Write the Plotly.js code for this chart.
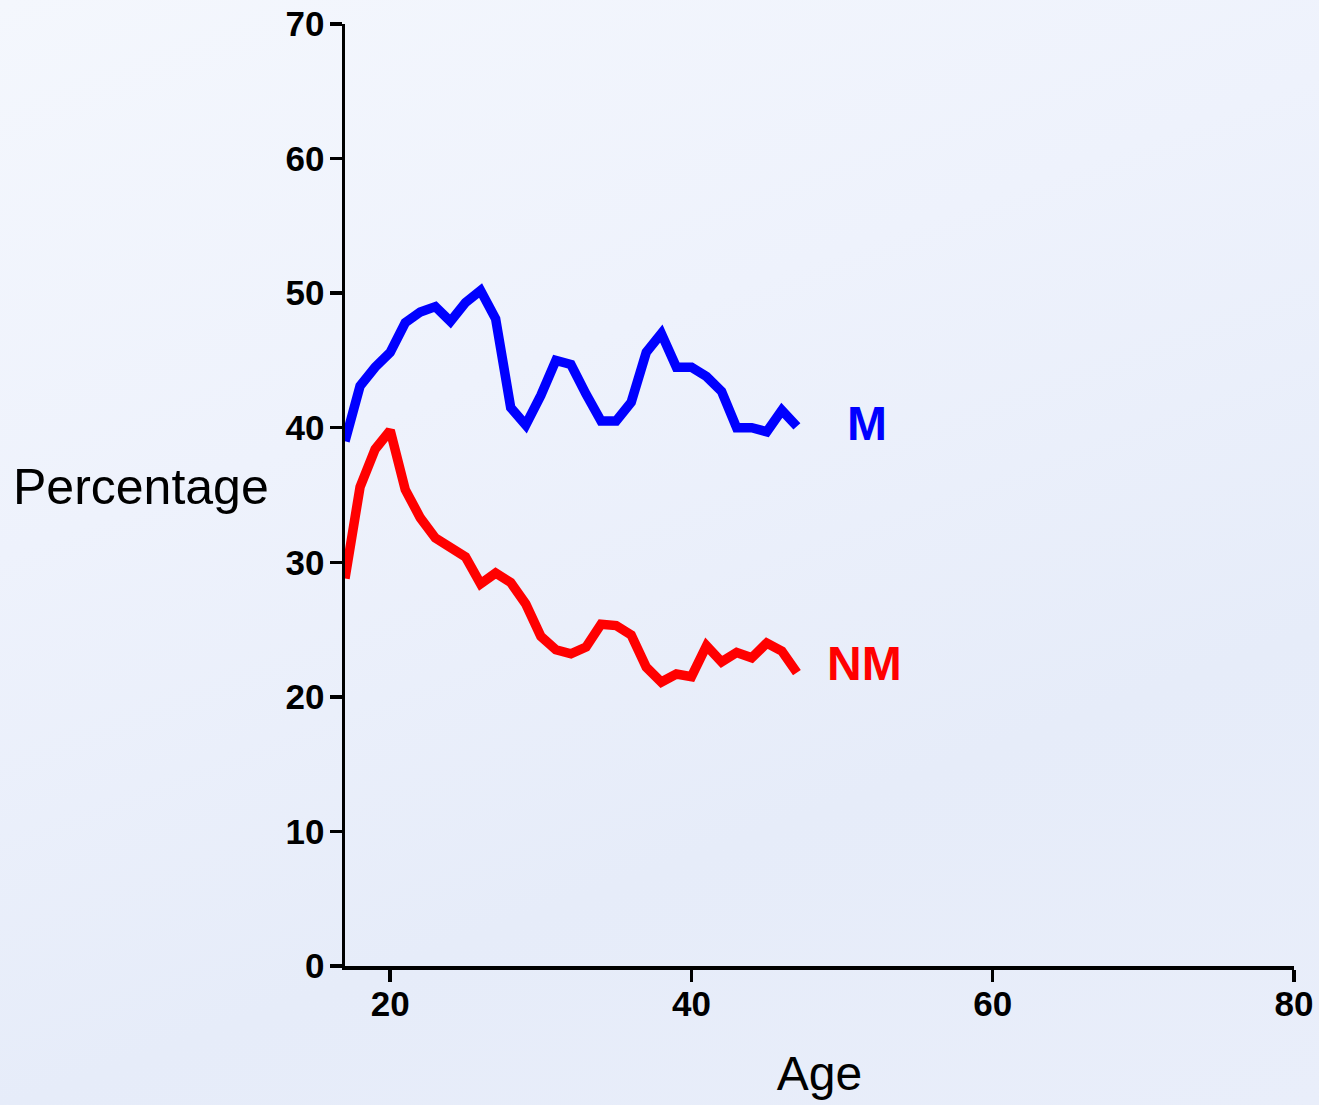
<!DOCTYPE html>
<html>
<head>
<meta charset="utf-8">
<script src="https://cdn.plot.ly/plotly-3.0.1.min.js"></script>
<style>
  html, body { margin: 0; padding: 0; }
  body { width: 1319px; height: 1105px; overflow: hidden;
    background: linear-gradient(160deg, #f4f7fd 0%, #eef2fc 35%, #e6ecf9 70%, #e9eefa 100%); }
  #chart { width: 1319px; height: 1105px; }
</style>
</head>
<body>
<div id="chart"></div>
<script>
const ages = [17,18,19,20,21,22,23,24,25,26,27,28,29,30,31,32,33,34,35,36,37,38,39,40,41,42,43,44,45,46,47];
const mValues = [39.0,43.1,44.5,45.6,47.8,48.6,49.0,47.9,49.3,50.2,48.1,41.5,40.2,42.4,45.0,44.7,42.5,40.5,40.5,41.9,45.6,47.0,44.5,44.5,43.8,42.7,40.0,40.0,39.7,41.3,40.1];
const nmValues = [28.8,35.6,38.4,39.8,35.4,33.3,31.8,31.1,30.4,28.4,29.2,28.5,26.9,24.5,23.5,23.2,23.7,25.4,25.3,24.6,22.2,21.1,21.7,21.5,23.8,22.6,23.3,22.9,24.0,23.4,21.8];
const seriesNames = ["M", "NM"];
const xTicks = [20, 40, 60, 80];
const yTicks = [0, 10, 20, 30, 40, 50, 60, 70];
const labelPos = {M: [51.65, 40.3], NM: [51.5, 22.5]};

const traces = [
  {x: ages, y: mValues, mode: "lines", name: seriesNames[0], line: {color: "#0000ff", width: 9.5}},
  {x: ages, y: nmValues, mode: "lines", name: seriesNames[1], line: {color: "#ff0000", width: 9.5}}
];

const tickFont = {family: "Liberation Sans, Arial, sans-serif", size: 35, color: "#000", weight: "bold"};

const layout = {
  width: 1319, height: 1105,
  margin: {l: 345, r: 25, t: 24, b: 139},
  paper_bgcolor: "rgba(0,0,0,0)",
  plot_bgcolor: "rgba(0,0,0,0)",
  showlegend: false,
  xaxis: {
    range: [17, 80], tickvals: xTicks, ticktext: xTicks.map(String),
    showline: true, linecolor: "#000", linewidth: 3.5,
    ticks: "outside", ticklen: 12, tickwidth: 3.5, tickcolor: "#000",
    showgrid: false, zeroline: false, tickfont: tickFont, ticklabelstandoff: -8,
    title: {text: "Age", font: {family: "Liberation Sans, Arial, sans-serif", size: 48, color: "#000"}, standoff: 36}
  },
  yaxis: {
    range: [0, 70], tickvals: yTicks, ticktext: yTicks.map(String),
    showline: true, linecolor: "#000", linewidth: 3.5,
    ticks: "outside", ticklen: 12, tickwidth: 3.5, tickcolor: "#000",
    showgrid: false, zeroline: false, tickfont: tickFont, ticklabelstandoff: -2
  },
  annotations: [
    {xref: "paper", yref: "y", x: -0.215, y: 35.6, text: "Percentage", showarrow: false,
     xanchor: "center", yanchor: "middle",
     font: {family: "Liberation Sans, Arial, sans-serif", size: 50, color: "#000"}},
    {x: labelPos.M[0], y: labelPos.M[1], text: seriesNames[0], showarrow: false,
     xanchor: "center", yanchor: "middle",
     font: {family: "Liberation Sans, Arial, sans-serif", size: 48, color: "#0000ff", weight: "bold"}},
    {x: labelPos.NM[0], y: labelPos.NM[1], text: seriesNames[1], showarrow: false,
     xanchor: "center", yanchor: "middle",
     font: {family: "Liberation Sans, Arial, sans-serif", size: 48, color: "#ff0000", weight: "bold"}}
  ]
};

Plotly.newPlot("chart", traces, layout, {displayModeBar: false, staticPlot: true});
</script>
</body>
</html>
